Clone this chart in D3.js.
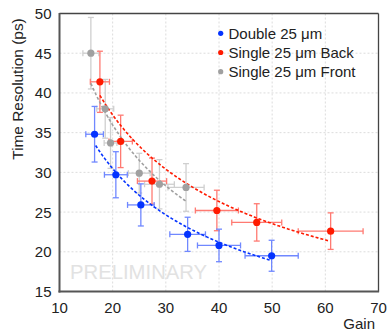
<!DOCTYPE html>
<html>
<head>
<meta charset="utf-8">
<script src="https://cdn.jsdelivr.net/npm/d3@7"></script>
<style>
  body { margin: 0; background: #fff; }
  svg { display: block; font-family: Helvetica, Arial, "Liberation Sans", sans-serif; }
</style>
</head>
<body>
<div id="chart"></div>
<script>
// values

var seriesNames = ["Double 25 μm", "Single 25 μm Back", "Single 25 μm Front"];

var doubleGain    = [16.6, 20.6, 25.3, 34.1, 40.0, 49.9];
var doubleRes     = [34.8, 29.7, 25.9, 22.2, 20.8, 19.5];
var doubleGainErr = [1.65, 2.15, 2.5, 3.35, 4.05, 5.0];
var doubleResErr  = [3.5, 2.9, 2.65, 2.15, 2.05, 1.95];

var backGain    = [17.6, 21.5, 27.4, 39.6, 47.1, 61.0];
var backRes     = [41.4, 33.9, 28.9, 25.2, 23.7, 22.6];
var backGainErr = [1.8, 2.2, 2.75, 4.05, 4.7, 6.1];
var backResErr  = [3.85, 3.3, 2.9, 2.55, 2.35, 2.3];

var frontGain    = [15.9, 18.6, 19.6, 25.0, 28.8, 33.8];
var frontRes     = [45.0, 38.0, 33.7, 29.9, 28.5, 28.1];
var frontGainErr = [1.5, 1.6, 1.2, 2.05, 2.8, 3.4];
var frontResErr  = [4.5, 3.7, 3.2, 2.5, 3.1, 3.0];

// power-law fits  res = a * gain^b, drawn over [from, to]
var fitA    = [146, 166.5, 211.9];
var fitB    = [-0.523, -0.5, -0.592];
var fitFrom = [16.8, 17.6, 15.9];
var fitTo   = [49.9, 60.5, 33.9];

var xTicks = [10, 20, 30, 40, 50, 60, 70];
var yTicks = [15, 20, 25, 30, 35, 40, 45, 50];

var colors    = ["#0433ff", "#ff1a00", "#a0a0a0"];
var errColors = ["#7088ff", "#ff7a72", "#cfcfcf"];


var width = 387, height = 333;
var svg = d3.select("#chart").append("svg")
	.attr("width", width).attr("height", height);

var x = d3.scaleLinear().domain([10, 70]).range([59.5, 378.5]);
var y = d3.scaleLinear().domain([15, 50]).range([291.5, 13.5]);

// dashed grid, inner ticks only
svg.append("g").selectAll("line")
	.data(xTicks.slice(1, -1)).enter().append("line")
	.attr("x1", function(d){ return x(d); }).attr("x2", function(d){ return x(d); })
	.attr("y1", y(15)).attr("y2", y(50))
	.attr("stroke", "#dcdcdc").attr("stroke-dasharray", "2,2");

svg.append("g").selectAll("line")
	.data(yTicks.slice(1, -1)).enter().append("line")
	.attr("y1", function(d){ return y(d); }).attr("y2", function(d){ return y(d); })
	.attr("x1", x(10)).attr("x2", x(70))
	.attr("stroke", "#dcdcdc").attr("stroke-dasharray", "2,2");

// watermark
svg.append("text")
	.attr("x", 70).attr("y", 279)
	.attr("font-size", 20.3)
	.attr("fill", "#e2e2e2")
	.text("PRELIMINARY");

var series = [
	{ gain: doubleGain, res: doubleRes, gErr: doubleGainErr, rErr: doubleResErr },
	{ gain: backGain,   res: backRes,   gErr: backGainErr,   rErr: backResErr },
	{ gain: frontGain,  res: frontRes,  gErr: frontGainErr,  rErr: frontResErr }
];

// draw back to front so blue ends on top
var order = [2, 1, 0];
var cap = 3;

order.forEach(function(s){
	var d = series[s];
	var pts = d.gain.map(function(g, i){
		return { g: g, r: d.res[i], ge: d.gErr[i], re: d.rErr[i] };
	});
	var eg = svg.append("g")
		.attr("stroke", errColors[s]).attr("stroke-width", 1.3).attr("fill", "none");

	pts.forEach(function(p){
		// vertical bar + caps
		eg.append("line").attr("x1", x(p.g)).attr("x2", x(p.g))
			.attr("y1", y(p.r - p.re)).attr("y2", y(p.r + p.re));
		eg.append("line").attr("x1", x(p.g) - cap).attr("x2", x(p.g) + cap)
			.attr("y1", y(p.r + p.re)).attr("y2", y(p.r + p.re));
		eg.append("line").attr("x1", x(p.g) - cap).attr("x2", x(p.g) + cap)
			.attr("y1", y(p.r - p.re)).attr("y2", y(p.r - p.re));
		// horizontal bar + caps
		eg.append("line").attr("y1", y(p.r)).attr("y2", y(p.r))
			.attr("x1", x(p.g - p.ge)).attr("x2", x(p.g + p.ge));
		eg.append("line").attr("y1", y(p.r) - cap).attr("y2", y(p.r) + cap)
			.attr("x1", x(p.g - p.ge)).attr("x2", x(p.g - p.ge));
		eg.append("line").attr("y1", y(p.r) - cap).attr("y2", y(p.r) + cap)
			.attr("x1", x(p.g + p.ge)).attr("x2", x(p.g + p.ge));
	});
});

// fit curves
var line = d3.line()
	.x(function(d){ return x(d[0]); })
	.y(function(d){ return y(d[1]); });

order.forEach(function(s){
	var xs = d3.range(fitFrom[s], fitTo[s], 0.25).concat([fitTo[s]]);
	var curve = xs.map(function(g){ return [g, fitA[s] * Math.pow(g, fitB[s])]; });
	svg.append("path")
		.attr("d", line(curve))
		.attr("fill", "none")
		.attr("stroke", colors[s])
		.attr("stroke-width", 1.6)
		.attr("stroke-dasharray", "3,2");
});

// markers
order.forEach(function(s){
	var d = series[s];
	svg.append("g").selectAll("circle")
		.data(d.gain).enter().append("circle")
		.attr("cx", function(g){ return x(g); })
		.attr("cy", function(g, i){ return y(d.res[i]); })
		.attr("r", 3.6)
		.attr("fill", colors[s]);
});

// frame: thick left / bottom, thin top / right
svg.append("line").attr("x1", x(10)).attr("x2", x(70)).attr("y1", y(50)).attr("y2", y(50))
	.attr("stroke", "#444").attr("stroke-width", 1.3);
svg.append("line").attr("x1", x(70)).attr("x2", x(70)).attr("y1", y(50)).attr("y2", y(15))
	.attr("stroke", "#444").attr("stroke-width", 1.3);
svg.append("line").attr("x1", x(10)).attr("x2", x(10)).attr("y1", y(50) - 0.6).attr("y2", y(15) + 1)
	.attr("stroke", "#555").attr("stroke-width", 2);
svg.append("line").attr("x1", x(10) - 1).attr("x2", x(70) + 0.6).attr("y1", y(15)).attr("y2", y(15))
	.attr("stroke", "#555").attr("stroke-width", 2);

// tick labels
svg.append("g").selectAll("text")
	.data(xTicks).enter().append("text")
	.attr("x", function(d){ return x(d); })
	.attr("y", 307)
	.attr("text-anchor", "middle")
	.attr("dominant-baseline", "central")
	.attr("font-size", 15)
	.attr("fill", "#222")
	.text(function(d){ return d; });

svg.append("g").selectAll("text")
	.data(yTicks).enter().append("text")
	.attr("x", 51.5)
	.attr("y", function(d){ return y(d); })
	.attr("text-anchor", "end")
	.attr("dominant-baseline", "central")
	.attr("font-size", 15)
	.attr("fill", "#222")
	.text(function(d){ return d; });

// axis titles
svg.append("text")
	.attr("x", 375).attr("y", 329)
	.attr("text-anchor", "end")
	.attr("font-size", 15)
	.attr("fill", "#222")
	.text("Gain");

svg.append("text")
	.attr("transform", "translate(17,89) rotate(-90)")
	.attr("text-anchor", "middle")
	.attr("dominant-baseline", "central")
	.attr("font-size", 15.4)
	.attr("fill", "#222")
	.text("Time Resolution (ps)");

// legend
var legend = svg.append("g");
seriesNames.forEach(function(name, i){
	var ly = 33.3 + i * 19.2;
	legend.append("circle")
		.attr("cx", 220.7).attr("cy", ly).attr("r", 2.6)
		.attr("fill", colors[i]);
	legend.append("text")
		.attr("x", 228.5).attr("y", ly)
		.attr("dominant-baseline", "central")
		.attr("font-size", 15)
		.attr("fill", "#222")
		.text(name);
});
</script>
</body>
</html>
